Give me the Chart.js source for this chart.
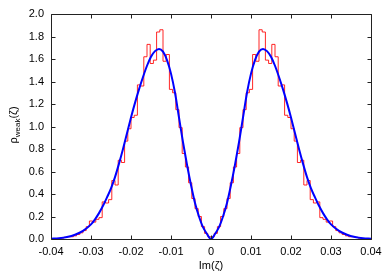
<!DOCTYPE html>
<html>
<head>
<meta charset="utf-8">
<script src="https://cdn.jsdelivr.net/npm/chart.js@4.4.0/dist/chart.umd.min.js"></script>
<style>
  html, body { margin: 0; padding: 0; background: #fff; }
  #wrap { width: 391px; height: 274px; }
</style>
</head>
<body>
<div id="wrap"><canvas id="rhoChart" width="391" height="274"></canvas></div>
<script>
// histogram: bins of width 0.0008 from -0.04 to 0.04
const binStart = -0.04;
const binWidth = 0.0008;
const histValues = [
  0.002, 0.003, 0.005, 0.008, 0.015, 0.02, 0.02, 0.028, 0.04, 0.055,
  0.075, 0.11, 0.16, 0.15, 0.175, 0.19, 0.33, 0.32, 0.35, 0.52,
  0.48, 0.70, 0.68, 0.87, 0.98, 1.08, 1.10, 1.37, 1.36, 1.62,
  1.73, 1.56, 1.59, 1.84, 1.86, 1.58, 1.64, 1.33, 1.30, 1.15,
  0.99, 0.76, 0.64, 0.50, 0.36, 0.27, 0.20, 0.11, 0.05, 0.02,
  0.02, 0.05, 0.11, 0.20, 0.27, 0.36, 0.50, 0.64, 0.76, 0.99,
  1.15, 1.30, 1.33, 1.64, 1.58, 1.86, 1.84, 1.59, 1.56, 1.73,
  1.62, 1.36, 1.37, 1.10, 1.08, 0.98, 0.87, 0.68, 0.70, 0.48,
  0.52, 0.35, 0.32, 0.33, 0.19, 0.175, 0.15, 0.16, 0.11, 0.075,
  0.055, 0.04, 0.028, 0.02, 0.02, 0.015, 0.008, 0.005, 0.003, 0.002
];

// smooth density curve
const curveX = [
  -0.04, -0.038, -0.036, -0.034, -0.032, -0.03, -0.029, -0.028, -0.027, -0.026,
  -0.025, -0.024, -0.023, -0.022, -0.021, -0.02, -0.019, -0.018, -0.017, -0.016,
  -0.015, -0.014, -0.013, -0.012, -0.011, -0.01, -0.009, -0.008, -0.007, -0.006,
  -0.005, -0.004, -0.003, -0.002, -0.001, 0,
  0.001, 0.002, 0.003, 0.004, 0.005, 0.006, 0.007, 0.008, 0.009, 0.01,
  0.011, 0.012, 0.013, 0.014, 0.015, 0.016, 0.017, 0.018, 0.019, 0.02,
  0.021, 0.022, 0.023, 0.024, 0.025, 0.026, 0.027, 0.028, 0.029, 0.03,
  0.032, 0.034, 0.036, 0.038, 0.04
];
const curveY = [
  0.002, 0.007, 0.018, 0.038, 0.072, 0.13, 0.175, 0.23, 0.295, 0.37,
  0.45, 0.55, 0.67, 0.80, 0.94, 1.08, 1.21, 1.33, 1.44, 1.54,
  1.62, 1.67, 1.69, 1.665, 1.59, 1.47, 1.30, 1.08, 0.86, 0.66,
  0.48, 0.32, 0.20, 0.105, 0.045, 0,
  0.045, 0.105, 0.20, 0.32, 0.48, 0.66, 0.86, 1.08, 1.30, 1.47,
  1.59, 1.665, 1.69, 1.67, 1.62, 1.54, 1.44, 1.33, 1.21, 1.08,
  0.94, 0.80, 0.67, 0.55, 0.45, 0.37, 0.295, 0.23, 0.175, 0.13,
  0.072, 0.038, 0.018, 0.007, 0.002
];

const xTickValues = [-0.04, -0.03, -0.02, -0.01, 0, 0.01, 0.02, 0.03, 0.04];
const xTickLabels = ['-0.04', '-0.03', '-0.02', '-0.01', '0', '0.01', '0.02', '0.03', '0.04'];
const yTickValues = [0, 0.2, 0.4, 0.6, 0.8, 1.0, 1.2, 1.4, 1.6, 1.8, 2.0];
const yTickLabels = ['0.0', '0.2', '0.4', '0.6', '0.8', '1.0', '1.2', '1.4', '1.6', '1.8', '2.0'];

const FONT = '"Liberation Sans", Arial, Helvetica, sans-serif';

// step outline points at bin edges
const histPoints = histValues.map((v, i) => ({ x: binStart + i * binWidth, y: v }));
histPoints.push({ x: binStart + histValues.length * binWidth, y: histValues[histValues.length - 1] });
const curvePoints = curveX.map((x, i) => ({ x: x, y: curveY[i] }));

// frame, inward ticks and axis titles
const framePlugin = {
  id: 'framePlugin',
  afterDraw(chart) {
    const { ctx, chartArea: a, scales: { x, y } } = chart;
    const L = Math.round(a.left) + 0.5, R = Math.round(a.right) + 0.5;
    const T = Math.round(a.top) + 0.5, B = Math.round(a.bottom) + 0.5;
    const tick = 4;
    ctx.save();
    ctx.strokeStyle = '#222';
    ctx.lineWidth = 1;
    ctx.beginPath();
    ctx.rect(L, T, R - L, B - T);
    xTickValues.forEach(v => {
      const px = Math.round(x.getPixelForValue(v)) + 0.5;
      ctx.moveTo(px, B); ctx.lineTo(px, B - tick);
      ctx.moveTo(px, T); ctx.lineTo(px, T + tick);
    });
    yTickValues.forEach(v => {
      const py = Math.round(y.getPixelForValue(v)) + 0.5;
      ctx.moveTo(L, py); ctx.lineTo(L + tick, py);
      ctx.moveTo(R, py); ctx.lineTo(R - tick, py);
    });
    ctx.stroke();

    ctx.fillStyle = '#000';
    // x title
    ctx.font = '11px ' + FONT;
    ctx.textAlign = 'center';
    ctx.textBaseline = 'alphabetic';
    ctx.fillText('Im(ζ)', (a.left + a.right) / 2, 269);

    // y title with subscript, rotated
    ctx.translate(17, 125);
    ctx.rotate(-Math.PI / 2);
    const main1 = 'ρ', sub = 'weak', main2 = '(ζ)';
    ctx.font = '11px ' + FONT;
    const w1 = ctx.measureText(main1).width;
    const w3 = ctx.measureText(main2).width;
    ctx.font = '8px ' + FONT;
    const w2 = ctx.measureText(sub).width;
    let cx = -(w1 + w2 + w3) / 2;
    ctx.textAlign = 'left';
    ctx.font = '11px ' + FONT;
    ctx.fillText(main1, cx, 0); cx += w1;
    ctx.font = '8px ' + FONT;
    ctx.fillText(sub, cx, 2.5); cx += w2;
    ctx.font = '11px ' + FONT;
    ctx.fillText(main2, cx, 0);
    ctx.restore();
  }
};

const chart = new Chart(document.getElementById('rhoChart').getContext('2d'), {
  type: 'scatter',
  data: {
    datasets: [
      {
        label: 'curve',
        data: curvePoints,
        showLine: true,
        borderColor: '#0000ff',
        borderWidth: 2,
        pointRadius: 0,
        cubicInterpolationMode: 'monotone',
        fill: false
      },
      {
        label: 'histogram',
        data: histPoints,
        showLine: true,
        stepped: 'before',
        borderColor: 'rgba(255, 0, 0, 0.85)',
        borderWidth: 1,
        pointRadius: 0,
        fill: false
      }
    ]
  },
  options: {
    responsive: false,
    animation: false,
    layout: { padding: { left: 0, right: 20, top: 14, bottom: 0 } },
    plugins: { legend: { display: false }, tooltip: { enabled: false } },
    scales: {
      x: {
        type: 'linear',
        min: -0.04,
        max: 0.04,
        grid: { display: false, drawTicks: false },
        border: { display: false },
        afterBuildTicks: s => { s.ticks = xTickValues.map(v => ({ value: v })); },
        afterFit: s => { s.height = 35; },
        ticks: {
          padding: 6,
          color: '#000',
          font: { family: FONT, size: 11 },
          maxRotation: 0,
          callback: (v, i) => xTickLabels[i]
        }
      },
      y: {
        type: 'linear',
        min: 0,
        max: 2,
        grid: { display: false, drawTicks: false },
        border: { display: false },
        afterBuildTicks: s => { s.ticks = yTickValues.map(v => ({ value: v })); },
        afterFit: s => { s.width = 51; },
        ticks: {
          padding: 7,
          color: '#000',
          font: { family: FONT, size: 11 },
          callback: (v, i) => yTickLabels[i]
        }
      }
    }
  },
  plugins: [framePlugin]
});
</script>
</body>
</html>
